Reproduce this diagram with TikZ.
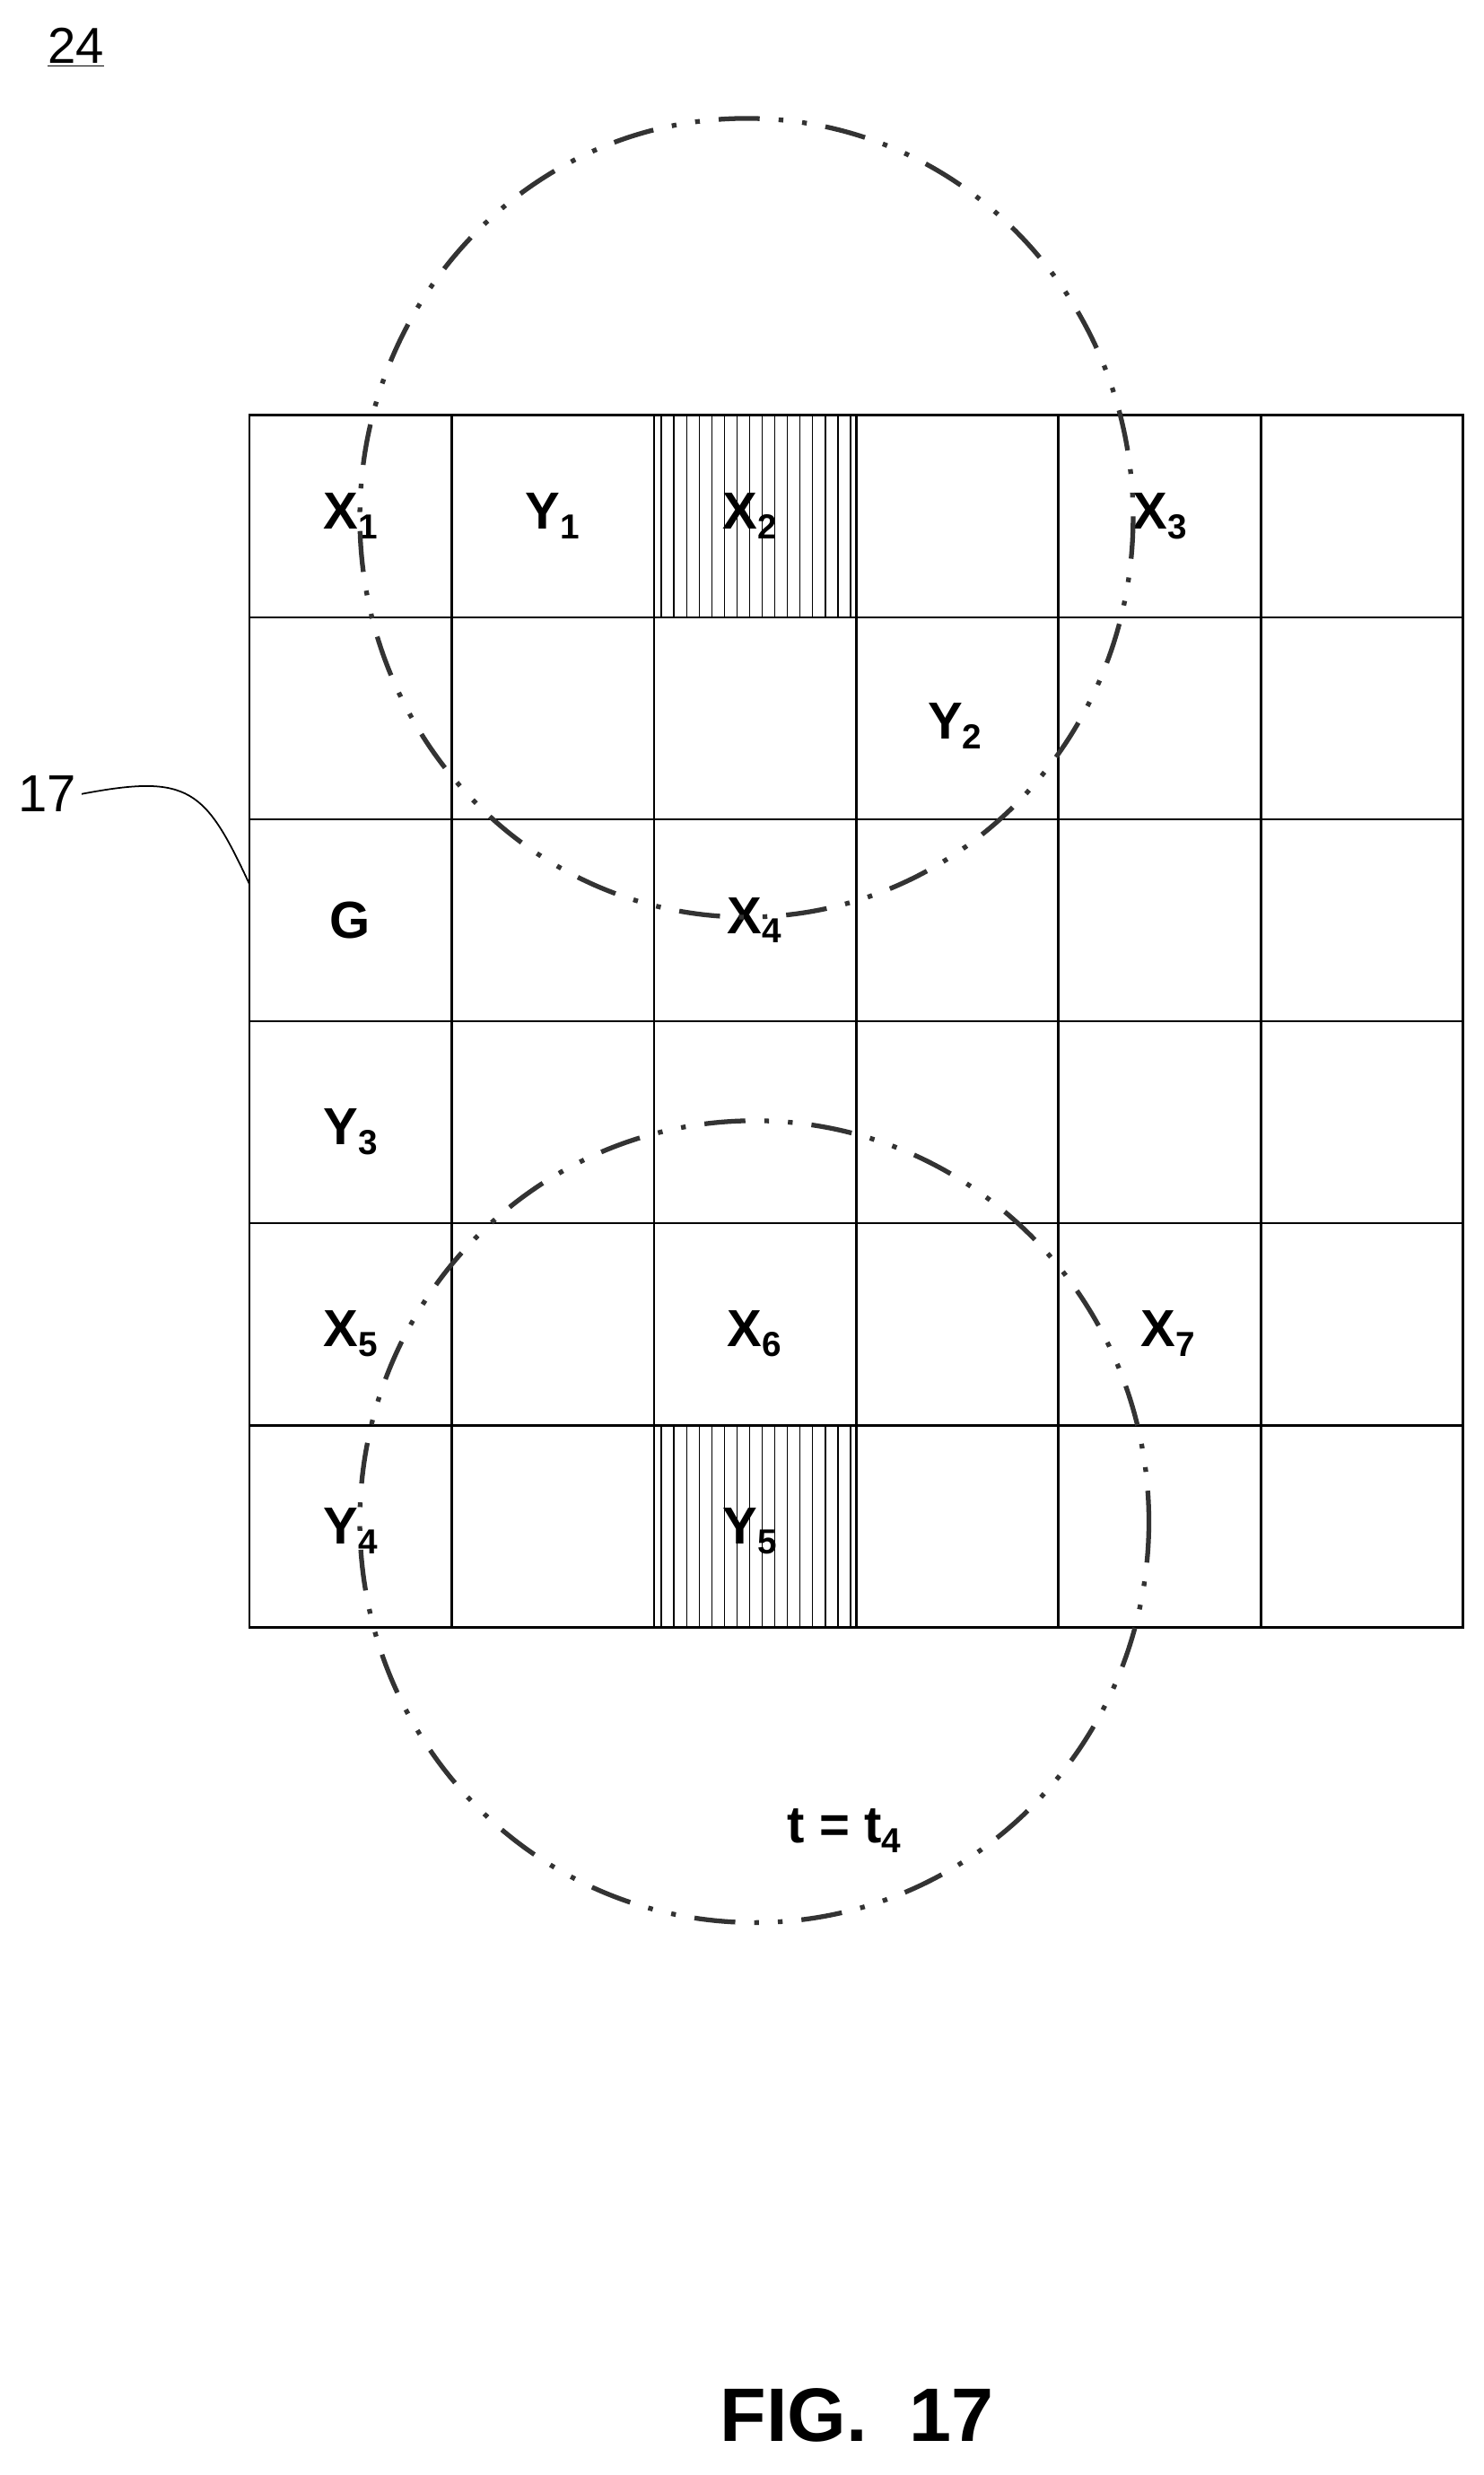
\documentclass[tikz,border=0pt]{standalone}
\usepackage{fontspec}
\setmainfont{Liberation Sans}
\newcommand{\sbx}[1]{\raisebox{-0.35ex}{\fontsize{22}{24}\selectfont\bfseries #1}}
\begin{document}
\begin{tikzpicture}[x=1pt,y=-1pt,
  cell/.style={draw,line width=1.4pt,minimum width=128pt,minimum height=128pt,inner sep=0pt},
  lab/.style={font=\fontsize{33}{35}\selectfont\bfseries},
  ring/.style={line width=3pt,color=black!80,dash pattern=on 26pt off 12pt on 3pt off 12pt on 3pt off 12pt}]
\useasboundingbox (0,0) rectangle (940,1568);
% hatch
\foreach \r in {1,6}{
  \foreach \k in {0,...,15}{\draw[line width=0.7pt] (419+\k*8, {263+(\r-1)*128}) -- ++(0,128);}
}
\foreach \c in {1,...,6}{\foreach \r in {1,...,6}{
  \node[cell] (c\c\r) at ({158+(\c-0.5)*128.2},{263+(\r-0.5)*128}) {};}}
\node[lab] at (222,327) {X\sbx{1}};
\node[lab] at (350,327) {Y\sbx{1}};
\node[lab] at (475,327) {X\sbx{2}};
\node[lab] at (735,327) {X\sbx{3}};
\node[lab] at (605,460) {Y\sbx{2}};
\node[lab] at (222,583) {G};
\node[lab] at (478,583) {X\sbx{4}};
\node[lab] at (222,717) {Y\sbx{3}};
\node[lab] at (222,845) {X\sbx{5}};
\node[lab] at (478,845) {X\sbx{6}};
\node[lab] at (740,845) {X\sbx{7}};
\node[lab] at (222,970) {Y\sbx{4}};
\node[lab] at (475,970) {Y\sbx{5}};
\draw[ring] (473,328) ellipse[x radius=245,y radius=253];
\draw[ring] (478,964) ellipse[x radius=250,y radius=254];
\node[lab] (t) at (535,1160) {t = t\sbx{4}};
\node[font=\fontsize{33}{35}\selectfont,anchor=west] (n17) at (8,503) {17};
\draw[line width=1pt] (n17.east) .. controls (120,490) and (130,500) .. (158,560);
\node[font=\fontsize{32}{34}\selectfont] (n24) at (48,30) {\underline{24}};
\node[font=\fontsize{48}{50}\selectfont\bfseries] (fig) at (543,1530) {FIG.\ \ 17};
\end{tikzpicture}
\end{document}
